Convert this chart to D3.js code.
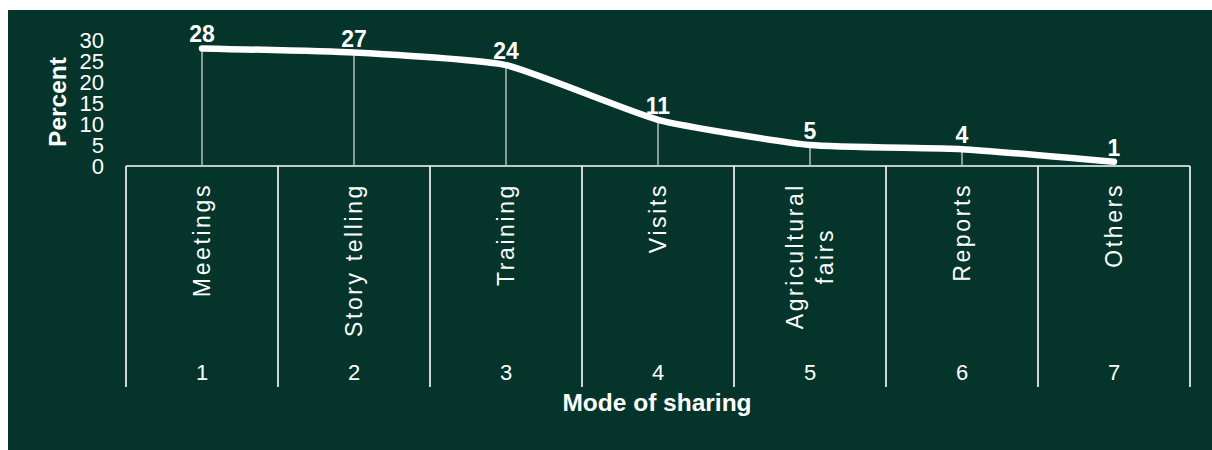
<!DOCTYPE html>
<html>
<head>
<meta charset="utf-8">
<script src="https://cdn.jsdelivr.net/npm/d3@7"></script>
<style>
  html, body { margin: 0; padding: 0; background: #ffffff; }
  svg { display: block; }
  text { font-family: Arial, "Liberation Sans", Helvetica, sans-serif; fill: #ffffff; }
</style>
</head>
<body>
<svg id="chart" width="1212" height="450"></svg>
<script>
// Modes of sharing and the share of respondents using each (percent)
const categories = ["Meetings", "Story telling", "Training", "Visits", "Agricultural\nfairs", "Reports", "Others"];
const categoryNumbers = ["1", "2", "3", "4", "5", "6", "7"];
const percentValues = [28, 27, 24, 11, 5, 4, 1];
const yTicks = [0, 5, 10, 15, 20, 25, 30];

const BG = "#04342a";
const svg = d3.select("#chart");

// dark green panel
svg.append("rect")
  .attr("x", 8).attr("y", 10)
  .attr("width", 1204).attr("height", 440)
  .attr("fill", BG);

const x = d3.scaleBand()
  .domain(d3.range(categories.length))
  .range([126, 1190])
  .paddingInner(0).paddingOuter(0);

const y = d3.scaleLinear()
  .domain([0, 30])
  .range([166, 40]);

const cx = i => x(i) + x.bandwidth() / 2;
const boxBottom = 387;

// y axis tick labels (no axis line, labels only)
const yAxis = d3.axisLeft(y).tickValues(yTicks).tickSize(0).tickPadding(0);
const yg = svg.append("g").attr("transform", "translate(104,0)").call(yAxis);
yg.select(".domain").remove();
yg.selectAll("text")
  .attr("font-size", 22)
  .attr("font-family", "Arial, 'Liberation Sans', sans-serif")
  .attr("fill", "#ffffff")
  .attr("dy", "0.36em");

// category box: top rule and separators
const box = svg.append("g").attr("stroke", "#ffffff").attr("stroke-width", 1.6).attr("fill", "none");
box.append("line")
  .attr("x1", x.range()[0]).attr("x2", x.range()[1])
  .attr("y1", y(0)).attr("y2", y(0));
const edges = d3.range(categories.length).map(i => x(i)).concat([x.range()[1]]);
box.selectAll("line.sep").data(edges).join("line")
  .attr("class", "sep")
  .attr("x1", d => d).attr("x2", d => d)
  .attr("y1", y(0)).attr("y2", boxBottom);

// drop lines from each point to the baseline
svg.append("g").selectAll("line").data(percentValues).join("line")
  .attr("x1", (d, i) => cx(i)).attr("x2", (d, i) => cx(i))
  .attr("y1", d => y(d)).attr("y2", y(0))
  .attr("stroke", "#b8bdbb").attr("stroke-width", 1.5);

// smoothed series line
const line = d3.line()
  .x((d, i) => cx(i))
  .y(d => y(d))
  .curve(d3.curveCardinal.tension(0.5));
svg.append("path")
  .datum(percentValues)
  .attr("d", line)
  .attr("fill", "none")
  .attr("stroke", "#ffffff")
  .attr("stroke-width", 6.5)
  .attr("stroke-linecap", "round")
  .attr("stroke-linejoin", "round");

// value labels
svg.append("g").selectAll("text").data(percentValues).join("text")
  .attr("x", (d, i) => cx(i))
  .attr("y", d => y(d) - 6)
  .attr("text-anchor", "middle")
  .attr("font-size", 23)
  .attr("font-weight", "bold")
  .text(d => d);

// rotated category names, top-aligned inside each box column
const labelTop = 183;
const catG = svg.append("g");
categories.forEach((name, i) => {
  const lines = name.split("\n");
  const t = catG.append("text")
    .attr("font-size", 23)
    .attr("letter-spacing", 2.6)
    .attr("text-anchor", "middle");
  const lh = 30;
  lines.forEach((ln, k) => {
    t.append("tspan")
      .attr("x", 0)
      .attr("y", (k - (lines.length - 1) / 2) * lh)
      .attr("dominant-baseline", "central")
      .text(ln);
  });
  // measure the longest line to anchor the label's top edge
  let maxLen = 0;
  t.selectAll("tspan").each(function () { maxLen = Math.max(maxLen, this.getComputedTextLength()); });
  t.attr("transform", `translate(${cx(i)},${labelTop + maxLen / 2}) rotate(-90)`);
});

// category numbers
svg.append("g").selectAll("text").data(categoryNumbers).join("text")
  .attr("x", (d, i) => cx(i))
  .attr("y", 372)
  .attr("dy", "0.36em")
  .attr("text-anchor", "middle")
  .attr("font-size", 22)
  .text(d => d);

// axis titles
svg.append("text")
  .attr("transform", "translate(57,102) rotate(-90)")
  .attr("text-anchor", "middle")
  .attr("dy", "0.36em")
  .attr("font-size", 24.5)
  .attr("font-weight", "bold")
  .text("Percent");

svg.append("text")
  .attr("x", 657)
  .attr("y", 411)
  .attr("text-anchor", "middle")
  .attr("font-size", 24.5)
  .attr("font-weight", "bold")
  .text("Mode of sharing");
</script>
</body>
</html>
